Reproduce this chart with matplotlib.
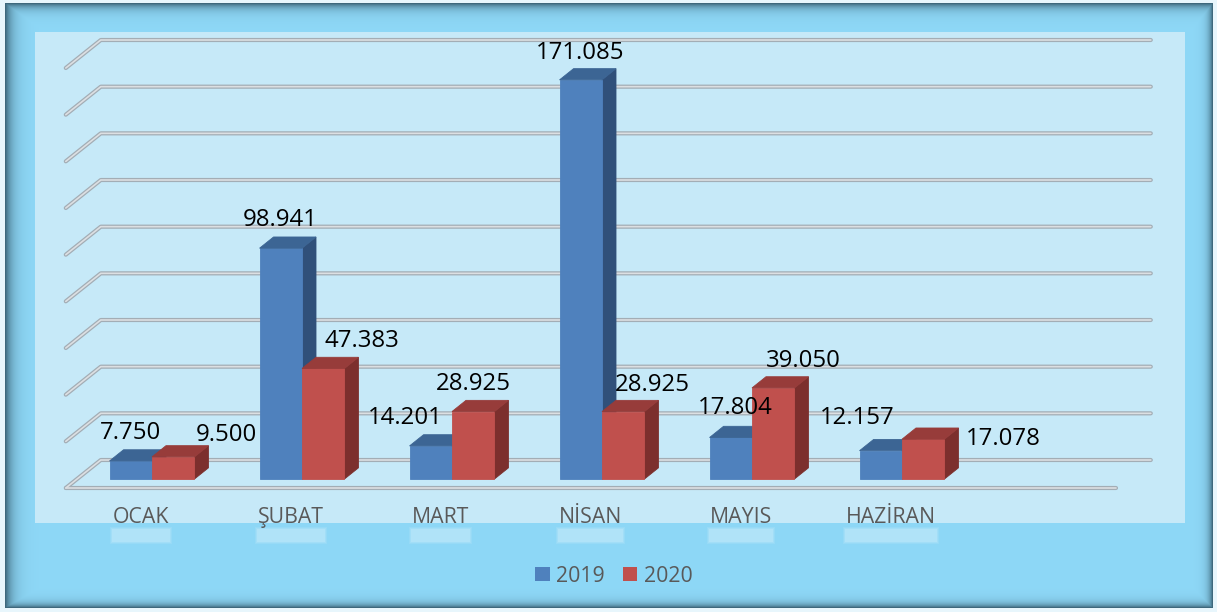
import numpy as np
import matplotlib
matplotlib.use("Agg")
import matplotlib.pyplot as plt
from matplotlib.patches import Polygon, Rectangle, Patch

# ---------------- data ----------------
categories = ["OCAK", "ŞUBAT", "MART", "NİSAN", "MAYIS", "HAZİRAN"]
series_names = ["2019", "2020"]
values_2019 = [7750, 98941, 14201, 171085, 17804, 12157]
values_2020 = [9500, 47383, 28925, 28925, 39050, 17078]
grid_values = list(range(0, 180001, 20000))

# ---------------- style ----------------
FONT = ["Open Sans", "DejaVu Sans"]
front_cols = ["#4f81bd", "#c0504d"]
top_cols = ["#3c6594", "#973c3a"]
side_cols = ["#30507a", "#7c2f2d"]
# label offsets (pixels) from the top-front centre of each bar
label_offsets = [
    [(0, 28), (-1, 28), (-26, 28), (-1, 27), (5, 29), (-24, 33)],
    [(53, 22), (39, 27), (0, 28), (29, 27), (30, 27), (80, 0)],
]

W_PX, H_PX = 1217, 612
fig = plt.figure(figsize=(W_PX / 100, H_PX / 100), dpi=100)

# ---------------- frame background ----------------
yy, xx = np.mgrid[0:H_PX, 0:W_PX]
inside = (xx >= 5) & (xx < 1213) & (yy >= 3) & (yy < 608)
dl = np.clip(xx - 5, 0, None)
dr = np.clip(1212 - xx, 0, None)
dt = np.clip(yy - 3, 0, None)
db = np.clip(607 - yy, 0, None)
shade = np.maximum.reduce([np.exp(-dl / 7.0), np.exp(-dt / 5.0),
                           np.exp(-dr / 4.0), np.exp(-db / 4.0)])
base = np.array([142, 216, 247]) / 255.0
dark = np.array([62, 104, 124]) / 255.0
img = base[None, None, :] * (1 - shade[..., None]) + dark[None, None, :] * shade[..., None]
img[~inside] = np.array([232, 246, 252]) / 255.0
ax_bg = fig.add_axes([0, 0, 1, 1])
ax_bg.imshow(img, extent=(0, W_PX, H_PX, 0), aspect="auto", interpolation="bilinear")
ax_bg.set_xlim(0, W_PX)
ax_bg.set_ylim(H_PX, 0)
ax_bg.axis("off")
# inner light panel
ax_bg.add_patch(Rectangle((35, 32), 1150, 491, facecolor="#c6e9f8", edgecolor="none", zorder=2))

# ---------------- main axes (data coordinates) ----------------
PX_PER_CAT = 150.0
PX_PER_VAL = 2.3333 / 1000.0
X0_PX = 140.8      # pixel x of category 0 on floor front
Y0_PX = 488.0      # pixel y of value 0 on floor front
DX = 35.0 / PX_PER_CAT          # depth offset in category units (d=1)
DV = 28.0 / PX_PER_VAL          # depth offset in value units (d=1)

ax = fig.add_axes([0, 0, 1, 1], facecolor="none")
ax.set_xlim((0 - X0_PX) / PX_PER_CAT, (W_PX - X0_PX) / PX_PER_CAT)
ax.set_ylim((Y0_PX - H_PX) / PX_PER_VAL, Y0_PX / PX_PER_VAL)
ax.axis("off")


def P(x, v, d):
    return (x + d * DX, v + d * DV)


# gridlines (back wall + left wall) and floor front
n_slots = 7
xl, xr = -0.5, n_slots - 0.5
for g in grid_values:
    pts = [P(xl, g, 0), P(xl, g, 1), P(xr, g, 1)]
    xs, ys = zip(*pts)
    ax.plot(xs, ys, color="#a3adb5", lw=3.0, solid_capstyle="round", zorder=1)
    ax.plot(xs, ys, color="#dcdfe2", lw=1.2, solid_capstyle="round", zorder=1.1)
fx, fy = zip(*[P(xl, 0, 0), P(xr, 0, 0)])
ax.plot(fx, fy, color="#a3adb5", lw=3.0, solid_capstyle="round", zorder=1)
ax.plot(fx, fy, color="#dcdfe2", lw=1.2, solid_capstyle="round", zorder=1.1)

# bars
BW = 0.283
D0, D1 = 0.32, 0.72
all_vals = [values_2019, values_2020]
z = 3
for i in range(len(categories)):
    for s in range(2):
        h = all_vals[s][i]
        x0 = i - BW if s == 0 else i
        x1 = x0 + BW
        front = [P(x0, 0, D0), P(x1, 0, D0), P(x1, h, D0), P(x0, h, D0)]
        top = [P(x0, h, D0), P(x1, h, D0), P(x1, h, D1), P(x0, h, D1)]
        side = [P(x1, 0, D0), P(x1, 0, D1), P(x1, h, D1), P(x1, h, D0)]
        ax.add_patch(Polygon(side, closed=True, facecolor=side_cols[s], edgecolor=side_cols[s], lw=0.6, zorder=z))
        ax.add_patch(Polygon(front, closed=True, facecolor=front_cols[s], edgecolor=front_cols[s], lw=0.6, zorder=z + 0.1))
        ax.add_patch(Polygon(top, closed=True, facecolor=top_cols[s], edgecolor=top_cols[s], lw=0.6, zorder=z + 0.2))
        z += 1

# value labels
for s in range(2):
    for i in range(len(categories)):
        h = all_vals[s][i]
        x0 = i - BW if s == 0 else i
        xc = x0 + BW / 2
        txt = f"{h:,}".replace(",", ".")
        ox, oy = label_offsets[s][i]
        ax.annotate(txt, xy=P(xc, h, D0), xytext=(ox, oy), textcoords="offset pixels",
                    ha="center", va="center", fontsize=17.3, family=FONT, color="black", zorder=50)

# category labels
cat_texts = []
for i, c in enumerate(categories):
    t = ax.annotate(c, xy=P(i, 0, 0), xytext=(0, -35), textcoords="offset pixels",
                    ha="center", va="baseline", fontsize=15.3, family=FONT, color="#595959", zorder=50)
    cat_texts.append(t)

# soft glow patches under category labels
fig.canvas.draw()
renderer = fig.canvas.get_renderer()
for t in cat_texts:
    bb = t.get_window_extent(renderer)
    x0p, x1p = bb.x0, bb.x1
    for k, a in enumerate([0.15, 0.2, 0.3]):
        pad = 3 - k
        ax_bg.add_patch(Rectangle((x0p - pad, 530 - pad), (x1p - x0p) + 2 * pad, 11 + 2 * pad,
                                  facecolor="#d2f0fc", edgecolor="none", alpha=a, zorder=3))

# legend
handles = [Patch(facecolor=front_cols[0], edgecolor="none"),
           Patch(facecolor=front_cols[1], edgecolor="none")]
leg = fig.legend(handles, series_names, loc="center", bbox_to_anchor=(614 / W_PX, 1 - 576 / H_PX),
                 ncol=2, frameon=False, handlelength=0.68, handleheight=0.68, handletextpad=0.3,
                 columnspacing=0.85, prop={"family": FONT, "size": 15.3})
for tx in leg.get_texts():
    tx.set_color("#595959")

fig.savefig("out.png", dpi=100)
